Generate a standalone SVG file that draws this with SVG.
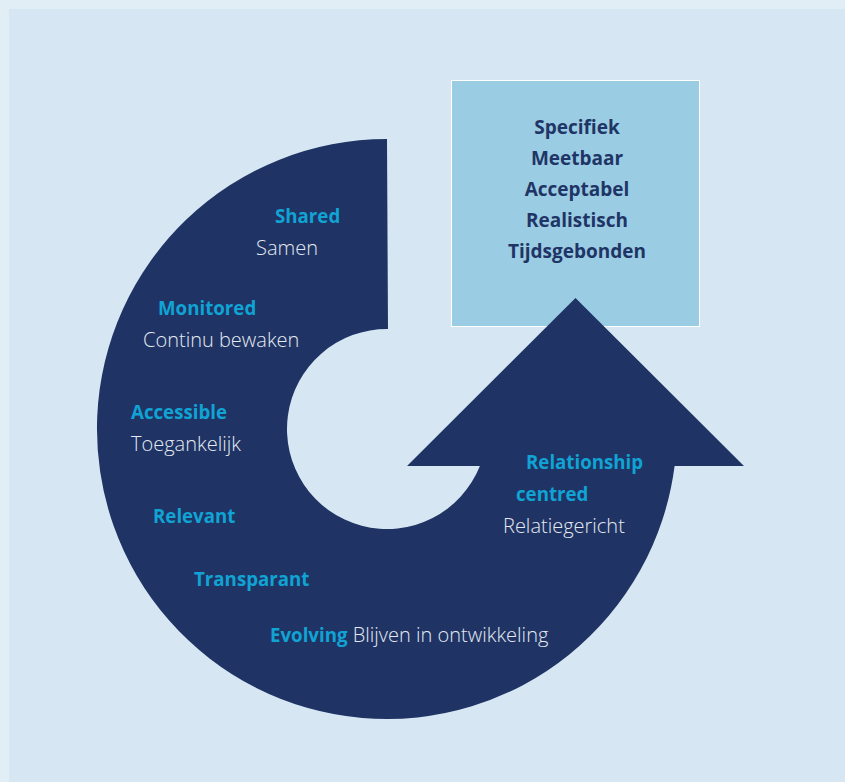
<svg xmlns="http://www.w3.org/2000/svg" width="845" height="782" viewBox="0 0 845 782">
<style>
.h{font-family:"Open Sans","Noto Sans",sans-serif;font-weight:700;font-size:18.7px;fill:#10a3d4}
.s{font-family:"Open Sans","Noto Sans",sans-serif;font-weight:300;font-size:20px;fill:#e4e9f2}
.b{font-family:"Open Sans","Noto Sans",sans-serif;font-weight:700;font-size:19px;fill:#1f3566;text-anchor:middle}
</style>
<rect x="0" y="0" width="845" height="782" fill="#e1eef5"/>
<rect x="9" y="9" width="836" height="773" fill="#d6e7f3"/>
<g id="smart-box">
<rect x="451.5" y="80.5" width="248" height="246" fill="#9acce3" stroke="#ffffff" stroke-width="1"/>
<text class="b" x="577" y="134">Specifiek</text>
<text class="b" x="577" y="165">Meetbaar</text>
<text class="b" x="577" y="196">Acceptabel</text>
<text class="b" x="577" y="227">Realistisch</text>
<text class="b" x="577" y="258">Tijdsgebonden</text>
</g>
<g id="cycle-arrow">
<path d="M387 139 A290 290 0 1 0 674.6 466 L744 466 L575.5 298 L407 466 L479.9 466 A100 100 0 1 1 388 329 Z" fill="#1f3464"/>
<text class="h" x="275" y="223">Shared</text>
<text class="s" x="256" y="255">Samen</text>
<text class="h" x="158" y="315">Monitored</text>
<text class="s" x="143" y="347">Continu bewaken</text>
<text class="h" x="131" y="419">Accessible</text>
<text class="s" x="131" y="451">Toegankelijk</text>
<text class="h" x="153" y="523">Relevant</text>
<text class="h" x="194" y="586">Transparant</text>
<text x="270" y="642"><tspan class="h">Evolving</tspan><tspan class="s"> Blijven in ontwikkeling</tspan></text>
<text class="h" x="526" y="469">Relationship</text>
<text class="h" x="516" y="501">centred</text>
<text class="s" x="503" y="533">Relatiegericht</text>
</g>
</svg>
